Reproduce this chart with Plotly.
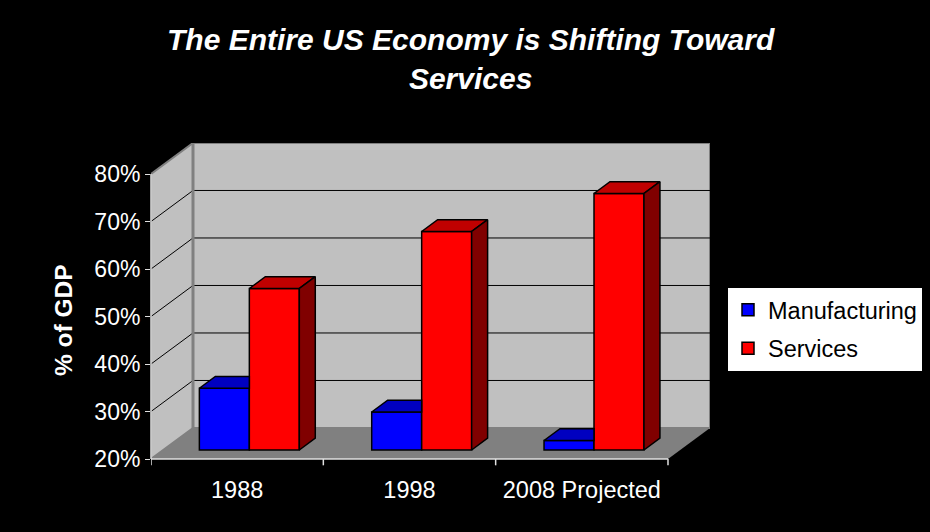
import plotly.graph_objects as go

# ---------------- data ----------------
categories = ["1988", "1998", "2008 Projected"]
manufacturing = [33, 28, 22]
services = [54, 66, 74]
y_ticks = [20, 30, 40, 50, 60, 70, 80]
y_tick_labels = ["20%", "30%", "40%", "50%", "60%", "70%", "80%"]

# ---------------- 3D geometry (axis units) ----------------
BASE, TOP = 20, 80
DX, DY = 0.2437, 6.53      # depth offset of back wall
F0, F1 = 0.29, 0.67        # bar front / back depth fractions
BW = 0.29                  # bar width
FONT = "Liberation Sans, Arial, sans-serif"

BLUE, BLUE_TOP, BLUE_SIDE = "#0000FF", "#0000C0", "#000080"
RED, RED_TOP, RED_SIDE = "#FF0000", "#C00000", "#800000"

n = len(categories)
x_lo, x_hi = -0.5, n - 0.5


def path(pts):
    return "M " + " L ".join(f"{x},{y}" for x, y in pts) + " Z"


shapes = []
# side wall
shapes.append(dict(type="path", xref="x", yref="y", layer="below",
                   path=path([(x_lo, BASE), (x_lo + DX, BASE + DY), (x_lo + DX, TOP + DY), (x_lo, TOP)]),
                   fillcolor="#C0C0C0", line=dict(color="#808080", width=2)))
# back wall
shapes.append(dict(type="path", xref="x", yref="y", layer="below",
                   path=path([(x_lo + DX, BASE + DY), (x_hi + DX, BASE + DY), (x_hi + DX, TOP + DY), (x_lo + DX, TOP + DY)]),
                   fillcolor="#C0C0C0", line=dict(color="#808080", width=2)))
# floor
shapes.append(dict(type="path", xref="x", yref="y", layer="below",
                   path=path([(x_lo, BASE), (x_hi, BASE), (x_hi + DX, BASE + DY), (x_lo + DX, BASE + DY)]),
                   fillcolor="#808080", line=dict(width=0)))
# gridlines
for v in y_ticks[1:-1]:
    shapes.append(dict(type="line", xref="x", yref="y", layer="below",
                       x0=x_lo + DX, x1=x_hi + DX, y0=v + DY, y1=v + DY,
                       line=dict(color="black", width=1)))
    shapes.append(dict(type="line", xref="x", yref="y", layer="below",
                       x0=x_lo, x1=x_lo + DX, y0=v, y1=v + DY,
                       line=dict(color="black", width=1)))
# corner line between walls
shapes.append(dict(type="line", xref="x", yref="y", layer="below",
                   x0=x_lo + DX, x1=x_lo + DX, y0=BASE + DY, y1=TOP + DY,
                   line=dict(color="#808080", width=3)))
# front axis lines
shapes.append(dict(type="line", xref="paper", yref="y", x0=0, x1=0, y0=BASE, y1=TOP,
                   line=dict(color="#E0E0E0", width=1.5)))
shapes.append(dict(type="line", xref="x", yref="paper", x0=x_lo, x1=x_hi, y0=0, y1=0,
                   line=dict(color="#E0E0E0", width=1.5)))
for k in range(n + 1):
    shapes.append(dict(type="line", xref="x", yref="paper", x0=x_lo + k, x1=x_lo + k,
                       y0=0, y1=-0.02, line=dict(color="#E0E0E0", width=1.5)))

fig = go.Figure()

series = [("Manufacturing", manufacturing, -BW, BLUE, BLUE_TOP, BLUE_SIDE),
          ("Services", services, 0.0, RED, RED_TOP, RED_SIDE)]

# front faces as bars
for name, vals, off, c, _, _ in series:
    fig.add_trace(go.Bar(
        name=name, legendgroup=name,
        x=[i + off + BW / 2 + F0 * DX for i in range(n)],
        y=[v - BASE for v in vals],
        base=BASE + F0 * DY, width=BW,
        marker=dict(color=c, line=dict(color="black", width=1.5)),
        hoverinfo="skip"))

d = F1 - F0
for i in range(n):
    for s_idx, (name, vals, off, c, ctop, cside) in enumerate(series):
        v = vals[i]
        x0 = i + off + F0 * DX
        x1 = x0 + BW
        yb = BASE + F0 * DY
        yt = v + F0 * DY
        if s_idx == 0:
            # top face, clipped by the neighbouring taller bar
            top = [(x0, yt), (x1, yt), (x1, yt + d * DY), (x0 + d * DX, yt + d * DY)]
            faces = [(top, ctop)]
        else:
            top = [(x0, yt), (x1, yt), (x1 + d * DX, yt + d * DY), (x0 + d * DX, yt + d * DY)]
            side = [(x1, yb), (x1 + d * DX, yb + d * DY), (x1 + d * DX, yt + d * DY), (x1, yt)]
            faces = [(top, ctop), (side, cside)]
        for pts, col in faces:
            fig.add_trace(go.Scatter(
                x=[p[0] for p in pts] + [pts[0][0]],
                y=[p[1] for p in pts] + [pts[0][1]],
                mode="lines", fill="toself", fillcolor=col,
                line=dict(color="black", width=1.5),
                showlegend=False, hoverinfo="skip"))

plot_w, plot_h = 559, 316
fig.update_layout(
    width=930, height=532,
    margin=dict(l=151, r=220, t=143, b=73, autoexpand=False),
    paper_bgcolor="black", plot_bgcolor="black",
    barmode="overlay",
    showlegend=True,
    shapes=shapes,
    font=dict(family=FONT, color="white", size=23),
    xaxis=dict(range=[x_lo, x_lo + plot_w / 172.33], tickvals=list(range(n)), ticktext=categories,
               showgrid=False, zeroline=False, showline=False,
               ticks="outside", ticklen=10, tickcolor="black",
               tickfont=dict(size=23.5, color="white", family=FONT), fixedrange=True),
    yaxis=dict(range=[BASE, BASE + plot_h / 4.75], tickvals=y_ticks, ticktext=y_tick_labels,
               showgrid=False, zeroline=False, showline=False,
               ticks="outside", ticklen=5, tickcolor="#E0E0E0",
               tickfont=dict(size=23, color="white", family=FONT), fixedrange=True),
    legend=dict(x=(727 - 151) / plot_w, y=(459 - 287) / plot_h, xanchor="left", yanchor="top",
                bgcolor="white", bordercolor="black", borderwidth=1,
                font=dict(size=23.5, color="black", family=FONT),
                traceorder="grouped", tracegroupgap=5),
    annotations=[
        dict(text="<b><i>The Entire US Economy is Shifting Toward<br>Services</i></b>",
             xref="paper", yref="paper", x=(471 - 151) / plot_w, y=(459 - 59) / plot_h,
             xanchor="center", yanchor="middle", showarrow=False,
             font=dict(size=30, color="white", family=FONT)),
        dict(text="<b>% of GDP</b>", textangle=-90,
             xref="paper", yref="paper", x=(63 - 151) / plot_w, y=(459 - 320) / plot_h,
             xanchor="center", yanchor="middle", showarrow=False,
             font=dict(size=24.5, color="white", family=FONT)),
    ],
)

fig.write_html("out.html")
